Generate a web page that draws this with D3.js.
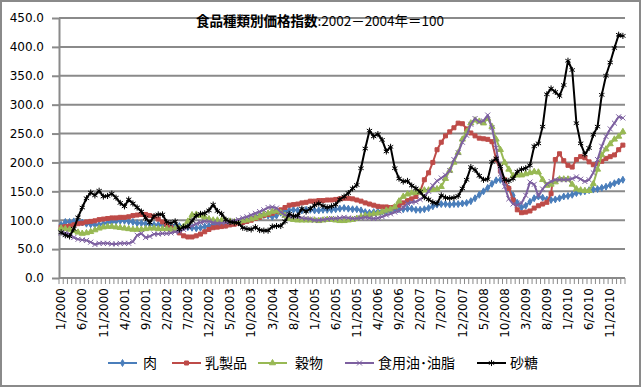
<!DOCTYPE html>
<html><head><meta charset="utf-8">
<script src="https://cdn.jsdelivr.net/npm/d3@7"></script>
<style>body{margin:0;background:#fff}</style>
</head><body><svg id="c" width="641" height="387"></svg>
<script>
// ---- data ----
const months = [];
for (let i = 0; i < 134; i++) { months.push((i % 12 + 1) + "/" + (2000 + Math.floor(i / 12))); }
const tickLabels = ["1/2000","6/2000","11/2000","4/2001","9/2001","2/2002","7/2002","12/2002","5/2003","10/2003","3/2004","8/2004","1/2005","6/2005","11/2005","4/2006","9/2006","2/2007","7/2007","12/2007","5/2008","10/2008","3/2009","8/2009","1/2010","6/2010","11/2010"];
const yTicks = [0,50,100,150,200,250,300,350,400,450];
const seriesNames = ["肉","乳製品","穀物","食用油･油脂","砂糖"];

const meat = [92,97,97,98,99,96,94,93,92,92,94,96,
97,98,99,99,98,97,95,95,94,93,92,92,
91,90,89,90,90,89,88,87,86,87,89,90,
93,93,92,92,94,96,97,99,100,103,106,108,
109,108,106,108,113,116,117,118,117,117,118,118,
117,117,118,118,118,119,120,121,120,119,119,117,
114,113,114,115,115,116,117,118,119,119,120,120,
118,118,119,121,124,127,128,128,127,128,128,129,
130,133,138,144,150,156,163,169,170,165,155,143,
130,122,125,132,138,141,139,136,135,136,138,141,
142,144,147,149,150,152,153,154,156,158,161,164,
167,170];
const dairy = [88,89,90,92,94,95,97,98,99,101,102,103,
104,104,105,105,106,108,109,110,110,108,106,102,
97,92,87,83,78,73,71,71,73,76,80,84,
87,88,89,90,92,93,95,96,98,100,103,105,
108,110,112,115,118,122,126,127,128,130,131,133,
133,134,134,135,135,136,137,138,138,137,135,133,
130,128,126,124,123,123,122,123,126,130,134,137,
141,150,170,182,200,222,235,246,253,260,268,267,
258,251,246,242,241,240,236,205,185,170,155,135,
118,113,114,116,121,125,128,131,146,205,215,203,
195,192,205,210,208,201,196,198,202,207,210,213,
222,230];
const cereals = [86,85,84,82,79,77,78,80,83,86,88,89,
89,88,87,86,85,84,84,84,85,86,86,85,
85,85,84,85,86,89,98,109,110,108,105,102,
100,100,100,99,98,97,97,99,100,102,104,107,
110,112,115,116,113,108,103,101,100,100,100,100,
100,99,100,101,101,100,99,99,100,101,103,106,
108,109,111,112,114,117,119,123,133,141,145,147,
148,150,152,152,153,154,158,172,186,200,217,240,
253,268,273,271,268,276,262,240,222,200,188,177,
178,178,180,182,184,183,170,160,162,166,171,171,
171,162,154,152,151,151,163,188,213,223,232,240,
245,253];
const oils = [78,78,76,70,67,66,65,62,58,60,60,60,
59,59,60,60,60,63,74,77,70,72,76,76,
77,77,78,80,80,84,88,90,94,96,98,98,
96,95,95,96,97,99,101,104,106,109,112,115,
118,122,123,121,114,109,107,107,106,104,103,102,
100,100,101,102,103,103,104,105,104,103,103,104,
105,104,103,104,106,109,111,114,116,122,129,131,
132,136,141,150,160,168,173,178,186,205,217,235,
247,266,276,270,272,282,260,225,180,158,137,128,
126,130,143,166,162,142,154,163,167,170,170,170,
170,172,175,171,167,170,182,205,228,245,258,268,
279,277];
const sugar = [79,74,72,85,105,122,138,148,143,151,141,142,
146,139,130,124,136,129,122,115,104,96,107,110,
110,97,95,98,84,88,89,99,108,111,112,117,
127,116,111,101,97,96,95,87,85,84,88,83,
82,82,89,90,90,98,111,107,108,120,115,120,
126,129,125,122,124,127,136,141,147,155,161,190,
224,255,245,249,239,219,227,190,172,167,168,160,
155,149,140,136,131,129,143,139,138,139,142,155,
170,192,187,177,170,171,201,207,193,170,168,172,
184,188,190,195,228,233,262,318,328,322,315,334,
376,360,268,233,214,225,248,262,317,350,373,398,
421,419];

// ---- styles ----
const seriesData = [meat, dairy, cereals, oils, sugar];
const colors = ["#4a7ebb","#be4b48","#98b954","#7d60a0","#000000"];
const symbols = [d3.symbolDiamond, d3.symbolSquare, d3.symbolTriangle, d3.symbolX, d3.symbolAsterisk];
const symSize = [14, 16, 16, 18, 26];
const filled = [true, true, true, false, false];

const svg = d3.select("#c");
svg.append("rect").attr("x",1).attr("y",1).attr("width",639).attr("height",385)
  .attr("fill","#fff").attr("stroke","#8a8a8a").attr("stroke-width",2);

const x = d3.scaleBand().domain(months).range([59, 625]);
const y = d3.scaleLinear().domain([0, 450]).range([278, 18]);
const cx = m => x(m) + x.bandwidth() / 2;

// gridlines
svg.append("g").selectAll("line").data(yTicks.slice(1)).join("line")
  .attr("x1", 59).attr("x2", 625).attr("y1", d => y(d)).attr("y2", d => y(d))
  .attr("stroke", "#8a8a8a").attr("stroke-width", 2);

// y axis
const yAxis = svg.append("g").attr("transform", "translate(59,0)")
  .call(d3.axisLeft(y).tickValues(yTicks).tickFormat(d3.format(".1f")).tickSizeInner(7).tickSizeOuter(0).tickPadding(8));
yAxis.select(".domain").attr("stroke", "#8a8a8a").attr("stroke-width", 2);
yAxis.selectAll(".tick line").attr("stroke", "#8a8a8a").attr("stroke-width", 2);
yAxis.selectAll(".tick text").attr("font-family", "DejaVu Sans").attr("font-size", 12).attr("fill", "#000");

// x axis
const xg = svg.append("g");
xg.append("line").attr("x1", 59).attr("x2", 625).attr("y1", y(0)).attr("y2", y(0))
  .attr("stroke", "#8a8a8a").attr("stroke-width", 2);
const bounds = months.map(m => x(m)).concat([x.range()[1]]);
xg.selectAll("line.tk").data(bounds).join("line").attr("class", "tk")
  .attr("x1", d => d).attr("x2", d => d).attr("y1", y(0)).attr("y2", y(0) + 6)
  .attr("stroke", "#8a8a8a").attr("stroke-width", 1);
xg.selectAll("text").data(tickLabels).join("text")
  .attr("transform", d => `translate(${cx(d)},288) rotate(-90)`)
  .attr("text-anchor", "end").attr("dy", "0.35em")
  .attr("font-family", "DejaVu Sans").attr("font-size", 12).attr("fill", "#000")
  .text(d => d);

// series
const line = d3.line().x((d, i) => cx(months[i])).y(d => y(d));
seriesData.forEach((data, k) => {
  const g = svg.append("g");
  g.append("path").attr("d", line(data)).attr("fill", "none")
    .attr("stroke", colors[k]).attr("stroke-width", 2).attr("stroke-linejoin", "round");
  g.selectAll("path.mk").data(data).join("path").attr("class", "mk")
    .attr("transform", (d, i) => `translate(${cx(months[i])},${y(d)})`)
    .attr("d", d3.symbol().type(symbols[k]).size(symSize[k]))
    .attr("fill", filled[k] ? colors[k] : "none")
    .attr("stroke", colors[k]).attr("stroke-width", 1);
});

// title
const title = svg.append("text").attr("x", 320).attr("y", 26).attr("text-anchor", "middle")
  .attr("font-family", "Noto Sans CJK JP").attr("font-size", 13.5).attr("fill", "#000");
title.append("tspan").attr("font-weight", "bold").text("食品種類別価格指数");
title.append("tspan").text(":2002－2004年＝100");

// legend
const legLineX = [108, 172, 258, 345, 477];
const legTextX = [143, 205, 295, 378, 510];
const ly = 363;
seriesNames.forEach((name, k) => {
  const g = svg.append("g");
  g.append("line").attr("x1", legLineX[k]).attr("x2", legLineX[k] + 29).attr("y1", ly).attr("y2", ly)
    .attr("stroke", colors[k]).attr("stroke-width", 2);
  g.append("path").attr("transform", `translate(${legLineX[k] + 14.5},${ly})`)
    .attr("d", d3.symbol().type(symbols[k]).size(symSize[k]))
    .attr("fill", filled[k] ? colors[k] : "none").attr("stroke", colors[k]).attr("stroke-width", 1);
  g.append("text").attr("x", legTextX[k]).attr("y", ly).attr("dy", "0.36em")
    .attr("font-family", "Noto Sans CJK JP").attr("font-size", 14).attr("fill", "#000").text(name);
});
</script>
</body></html>
